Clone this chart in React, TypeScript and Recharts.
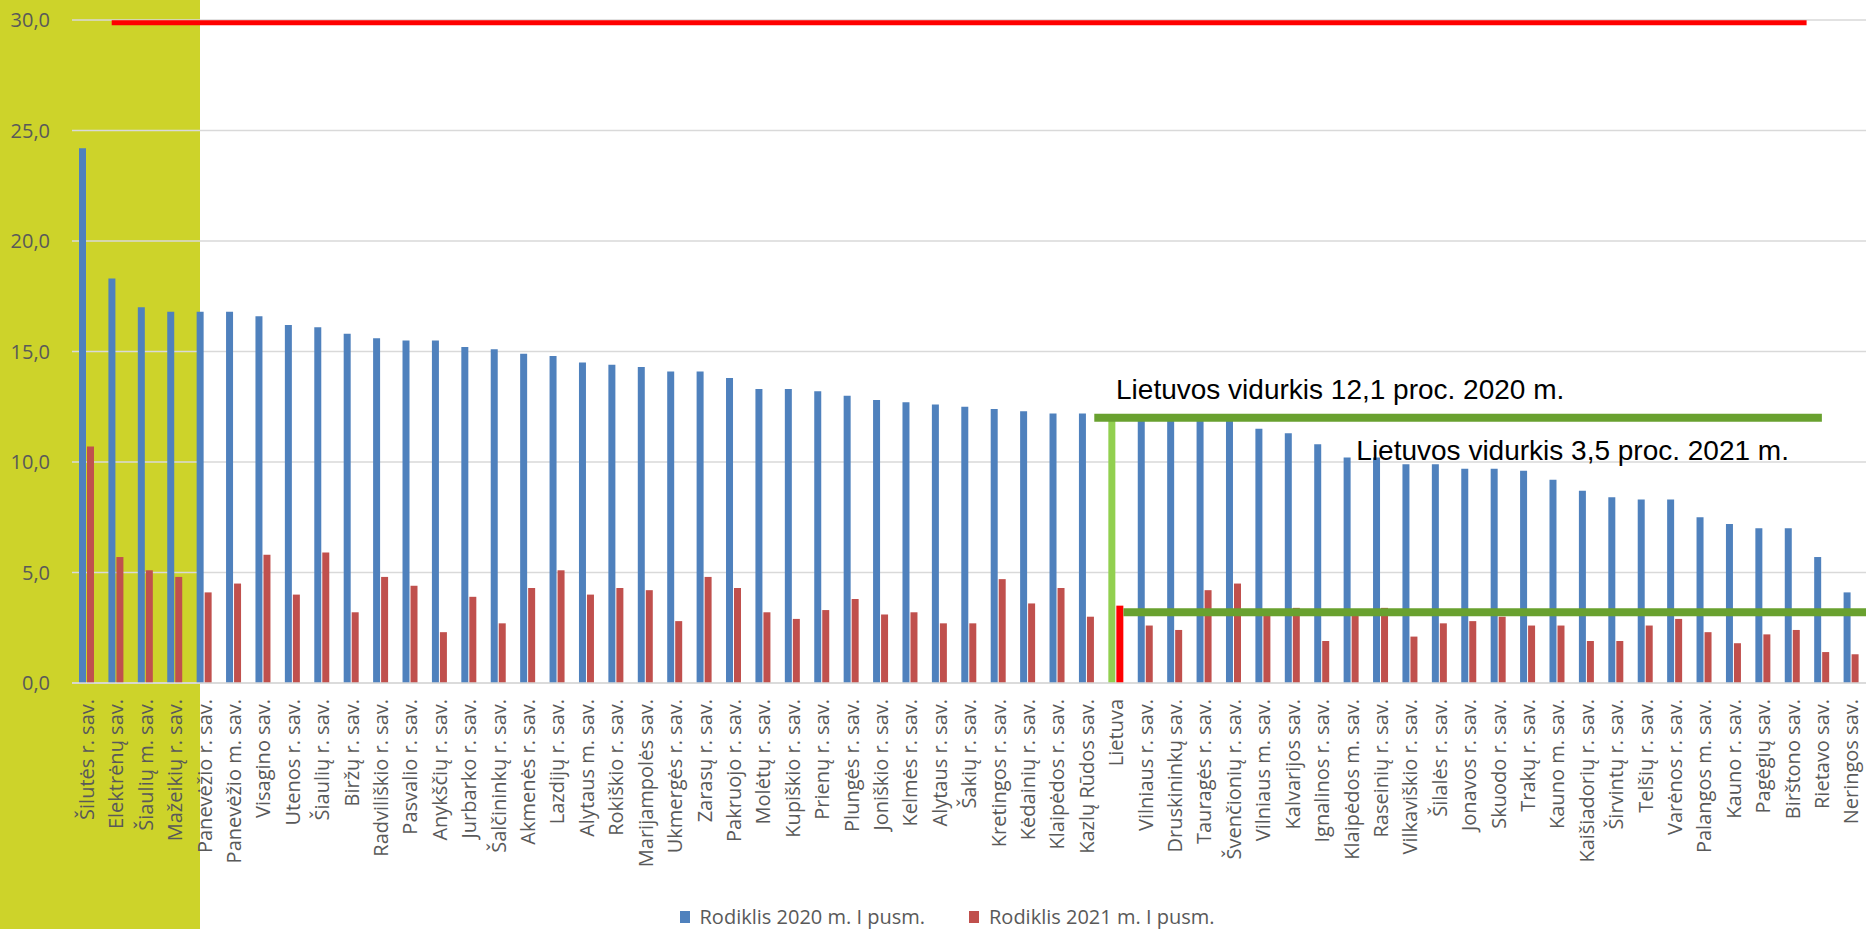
import { BarChart, Bar, XAxis, YAxis, CartesianGrid, Cell, Legend, ReferenceLine, ReferenceDot } from 'recharts';

const categories = [
  'Šilutės r. sav.', 'Elektrėnų sav.', 'Šiaulių m. sav.', 'Mažeikių r. sav.', 'Panevėžio r. sav.',
  'Panevėžio m. sav.', 'Visagino sav.', 'Utenos r. sav.', 'Šiaulių r. sav.', 'Biržų r. sav.',
  'Radviliškio r. sav.', 'Pasvalio r. sav.', 'Anykščių r. sav.', 'Jurbarko r. sav.', 'Šalčininkų r. sav.',
  'Akmenės r. sav.', 'Lazdijų r. sav.', 'Alytaus m. sav.', 'Rokiškio r. sav.', 'Marijampolės sav.',
  'Ukmergės r. sav.', 'Zarasų r. sav.', 'Pakruojo r. sav.', 'Molėtų r. sav.', 'Kupiškio r. sav.',
  'Prienų r. sav.', 'Plungės r. sav.', 'Joniškio r. sav.', 'Kelmės r. sav.', 'Alytaus r. sav.',
  'Šakių r. sav.', 'Kretingos r. sav.', 'Kėdainių r. sav.', 'Klaipėdos r. sav.', 'Kazlų Rūdos sav.',
  'Lietuva', 'Vilniaus r. sav.', 'Druskininkų sav.', 'Tauragės r. sav.', 'Švenčionių r. sav.',
  'Vilniaus m. sav.', 'Kalvarijos sav.', 'Ignalinos r. sav.', 'Klaipėdos m. sav.', 'Raseinių r. sav.',
  'Vilkaviškio r. sav.', 'Šilalės r. sav.', 'Jonavos r. sav.', 'Skuodo r. sav.', 'Trakų r. sav.',
  'Kauno m. sav.', 'Kaišiadorių r. sav.', 'Širvintų r. sav.', 'Telšių r. sav.', 'Varėnos r. sav.',
  'Palangos m. sav.', 'Kauno r. sav.', 'Pagėgių sav.', 'Birštono sav.', 'Rietavo sav.',
  'Neringos sav.',
];

const values2020 = [
  24.2, 18.3, 17.0, 16.8, 16.8, 16.8, 16.6, 16.2, 16.1, 15.8,
  15.6, 15.5, 15.5, 15.2, 15.1, 14.9, 14.8, 14.5, 14.4, 14.3,
  14.1, 14.1, 13.8, 13.3, 13.3, 13.2, 13.0, 12.8, 12.7, 12.6,
  12.5, 12.4, 12.3, 12.2, 12.2, 12.1, 12.1, 12.0, 12.0, 11.9,
  11.5, 11.3, 10.8, 10.2, 10.2, 9.9, 9.9, 9.7, 9.7, 9.6,
  9.2, 8.7, 8.4, 8.3, 8.3, 7.5, 7.2, 7.0, 7.0, 5.7,
  4.1,
];

const values2021 = [
  10.7, 5.7, 5.1, 4.8, 4.1, 4.5, 5.8, 4.0, 5.9, 3.2,
  4.8, 4.4, 2.3, 3.9, 2.7, 4.3, 5.1, 4.0, 4.3, 4.2,
  2.8, 4.8, 4.3, 3.2, 2.9, 3.3, 3.8, 3.1, 3.2, 2.7,
  2.7, 4.7, 3.6, 4.3, 3.0, 3.5, 2.6, 2.4, 4.2, 4.5,
  3.1, 3.4, 1.9, 3.1, 3.4, 2.1, 2.7, 2.8, 3.0, 2.6,
  2.6, 1.9, 1.9, 2.6, 2.9, 2.3, 1.8, 2.2, 2.4, 1.4,
  1.3,
];

const yTicks = [0, 5, 10, 15, 20, 25, 30];

const series = [
  { key: 'v2020', name: 'Rodiklis 2020 m. I pusm.', color: '#4F81BD' },
  { key: 'v2021', name: 'Rodiklis 2021 m. I pusm.', color: '#C0504D' },
];

const HIGHLIGHT = 'Lietuva';
const avgText2020 = 'Lietuvos vidurkis 12,1 proc. 2020 m.';
const avgText2021 = 'Lietuvos vidurkis 3,5 proc. 2021 m.';

const data = categories.map((name, i) => ({
  name,
  v2020: values2020[i],
  v2021: values2021[i],
}));

// hand-drawn lines from the original sheet; from/to are category slots (0 = left edge of first category)
const drawnLines = [
  { from: 1.35, to: 58.98, y: 29.87, color: '#FF0000', width: 5 },
  { from: 34.76, to: 59.5, y: 12.0, color: '#69A12F', width: 8 },
  { from: 35.75, to: 61, y: 3.2, color: '#69A12F', width: 8 },
];

const GREY = '#595959';
const FONT = '"Open Sans", sans-serif';

function CategoryTick({ x, y, payload }: any) {
  return (
    <g transform={`translate(${x},${y})`}>
      <text transform="rotate(-90)" x={-8} y={0} dy="0.36em" textAnchor="end" fill={GREY} fontSize={20} fontFamily={FONT}>
        {payload.value}
      </text>
    </g>
  );
}

function LegendContent() {
  return (
    <div style={{ display: 'flex', justifyContent: 'center', gap: 44, paddingLeft: 28, fontFamily: FONT, fontSize: 20, color: GREY, lineHeight: '24px' }}>
      {series.map((s) => (
        <span key={s.key} style={{ display: 'flex', alignItems: 'center', gap: 10 }}>
          <span style={{ width: 10, height: 12, background: s.color, display: 'inline-block' }} />
          {s.name}
        </span>
      ))}
    </div>
  );
}

// segment is anchored at band starts of two categories; the shape stretches it to fractional slots
function segmentFor(from: number, to: number) {
  const i0 = Math.floor(from);
  let i1 = Math.min(Math.floor(to), categories.length - 1);
  if (i1 <= i0) i1 = i0 + 1;
  return { i0, i1 };
}

const spanShape = (from: number, to: number, color: string, width: number) => (props: any) => {
  const { i0, i1 } = segmentFor(from, to);
  const bw = (props.x2 - props.x1) / (i1 - i0);
  const xa = props.x1 + (from - i0) * bw;
  const xb = props.x2 + (to - i1) * bw;
  return <line x1={xa} y1={props.y1} x2={xb} y2={props.y2} stroke={color} strokeWidth={width} />;
};

const noteLabel = (text: string, dx: number) => (props: any) => {
  const vb = props.viewBox || {};
  return (
    <text x={vb.x + dx} y={vb.y} fontFamily='"Liberation Sans", Arial, sans-serif' fontSize={28} fill="#000">
      {text}
    </text>
  );
};

export default function App() {
  return (
    <div style={{ position: 'absolute', left: 0, top: 0, width: 1866, height: 929, background: '#fff' }}>
      <div style={{ position: 'absolute', left: 0, top: 0, width: 200, height: 929, background: '#CDD32A' }} />
      <div style={{ position: 'absolute', left: 0, top: 0 }}>
        <BarChart width={1866} height={929} data={data} margin={{ top: 20, right: 0, left: 0, bottom: 0 }} barSize={7} barGap={1}>
          <CartesianGrid vertical={false} stroke="#D9D9D9" strokeWidth={1.5} />
          <XAxis dataKey="name" interval={0} height={222} tickLine={false} axisLine={{ stroke: '#D9D9D9', strokeWidth: 1.5 }} tick={<CategoryTick />} />
          <YAxis domain={[0, 30]} ticks={yTicks} width={72} axisLine={false} tickLine={false} tickMargin={16}
            tickFormatter={(v: number) => v.toFixed(1).replace('.', ',')} tick={{ fill: GREY, fontSize: 20, fontFamily: FONT }} />
          <Legend verticalAlign="bottom" height={24} content={<LegendContent />} />
          <Bar dataKey="v2020" fill={series[0].color} isAnimationActive={false}>
            {data.map((d) => (<Cell key={d.name} fill={d.name === HIGHLIGHT ? '#92D050' : series[0].color} />))}
          </Bar>
          <Bar dataKey="v2021" fill={series[1].color} isAnimationActive={false}>
            {data.map((d) => (<Cell key={d.name} fill={d.name === HIGHLIGHT ? '#FF0000' : series[1].color} />))}
          </Bar>
          {drawnLines.map((l, k) => {
            const { i0, i1 } = segmentFor(l.from, l.to);
            return (
              <ReferenceLine
                key={k}
                position="start"
                segment={[{ x: categories[i0], y: l.y }, { x: categories[i1], y: l.y }]}
                shape={spanShape(l.from, l.to, l.color, l.width)}
              />
            );
          })}
          <ReferenceDot x="Lietuva" y={12.85} r={0} stroke="none" fill="none" label={noteLabel(avgText2020, 0)} />
          <ReferenceDot x="Klaipėdos m. sav." y={10.09} r={0} stroke="none" fill="none" label={noteLabel(avgText2021, 5)} />
        </BarChart>
      </div>
    </div>
  );
}
